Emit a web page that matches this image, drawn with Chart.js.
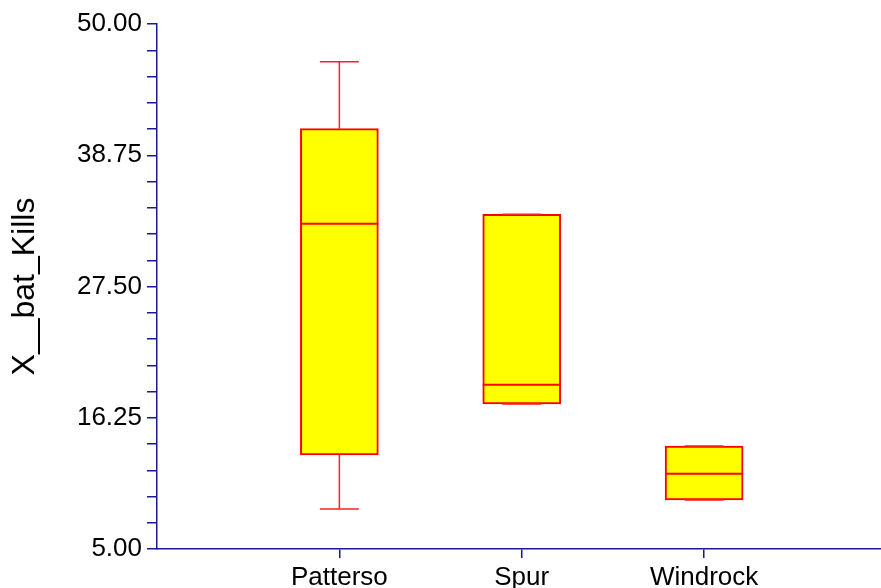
<!DOCTYPE html>
<html>
<head>
<meta charset="utf-8">
<script src="https://cdn.jsdelivr.net/npm/chart.js@4"></script>
<style>
html,body{margin:0;padding:0;background:#fff;}
#wrap{width:881px;height:588px;}
</style>
</head>
<body>
<div id="wrap"><canvas id="c" width="881" height="588"></canvas></div>
<script>
const categories = ['Patterso', 'Spur', 'Windrock'];
const mins    = [8.43, 17.43, 9.2];
const q1s     = [13.06, 17.43, 9.2];
const medians = [32.88, 19.08, 11.45];
const q3s     = [41.03, 33.69, 13.83];
const maxs    = [46.77, 33.69, 13.83];
const yMajorTicks = [5, 16.25, 27.5, 38.75, 50];
const yMinorStep = 2.25;

const AXIS = '#1a1a8c';
const FONT = 'Liberation Sans, Arial, sans-serif';

const boxData = categories.map((c, i) => ({x: i + 1, y: [q1s[i], q3s[i]]}));

const whiskerPlugin = {
  id: 'whiskers',
  afterDatasetsDraw(chart) {
    const ctx = chart.ctx;
    const xs = chart.scales.x, ys = chart.scales.y;
    const boxHalf = 39, capHalf = 19.5;
    ctx.save();
    ctx.lineCap = 'butt';
    categories.forEach((c, i) => {
      const cx = xs.getPixelForValue(i + 1);
      const pMax = ys.getPixelForValue(maxs[i]);
      const pMin = ys.getPixelForValue(mins[i]);
      const pQ1 = ys.getPixelForValue(q1s[i]);
      const pQ3 = ys.getPixelForValue(q3s[i]);
      const pMed = ys.getPixelForValue(medians[i]);
      ctx.strokeStyle = '#ff2020';
      ctx.lineWidth = 1.5;
      ctx.beginPath();
      if (maxs[i] > q3s[i]) { ctx.moveTo(cx, pQ3); ctx.lineTo(cx, pMax); }
      if (mins[i] < q1s[i]) { ctx.moveTo(cx, pQ1); ctx.lineTo(cx, pMin); }
      ctx.moveTo(cx - capHalf, pMax); ctx.lineTo(cx + capHalf, pMax);
      ctx.moveTo(cx - capHalf, pMin); ctx.lineTo(cx + capHalf, pMin);
      ctx.stroke();
      ctx.strokeStyle = '#ff0000';
      ctx.lineWidth = 2;
      ctx.beginPath();
      ctx.moveTo(cx - boxHalf, pMed); ctx.lineTo(cx + boxHalf, pMed);
      ctx.stroke();
    });
    ctx.restore();
  }
};

new Chart(document.getElementById('c'), {
  type: 'bar',
  data: {
    datasets: [{
      data: boxData,
      backgroundColor: '#ffff00',
      borderColor: '#ff0000',
      borderWidth: 2,
      borderSkipped: false,
      barThickness: 78
    }]
  },
  plugins: [whiskerPlugin],
  options: {
    responsive: false,
    animation: false,
    devicePixelRatio: 1,
    layout: {padding: {top: 24, right: 0, left: 0, bottom: 0}},
    plugins: {legend: {display: false}, tooltip: {enabled: false}},
    scales: {
      x: {
        type: 'linear',
        offset: false,
        min: 0,
        max: 3.97,
        afterBuildTicks(scale) { scale.ticks = categories.map((c, i) => ({value: i + 1})); },
        afterFit(scale) { scale.height = 39; },
        ticks: {
          autoSkip: false,
          maxRotation: 0,
          padding: 4,
          color: '#000',
          font: {family: FONT, size: 26},
          callback: (v) => categories[Math.round(v) - 1] || ''
        },
        grid: {offset: false, drawOnChartArea: false, drawTicks: true, tickLength: 9, color: AXIS, tickColor: AXIS, lineWidth: 1.5},
        border: {display: true, color: AXIS, width: 1.5}
      },
      y: {
        type: 'linear',
        min: 5,
        max: 50,
        afterBuildTicks(scale) {
          const t = [];
          for (let k = 0; k <= 20; k++) t.push({value: 5 + k * yMinorStep});
          scale.ticks = t;
        },
        afterFit(scale) { scale.width = 157; },
        ticks: {
          autoSkip: false,
          padding: 5,
          color: '#000',
          font: {family: FONT, size: 26},
          callback: (v) => {
            const m = yMajorTicks.find(t => Math.abs(t - v) < 1e-6);
            return m !== undefined ? m.toFixed(2) : '';
          }
        },
        title: {
          display: true,
          text: 'X__bat_Kills',
          color: '#000',
          font: {family: FONT, size: 32},
          padding: {top: 6, bottom: 0}
        },
        grid: {drawOnChartArea: false, drawTicks: true, tickLength: 10, color: AXIS, tickColor: AXIS, lineWidth: 1.5},
        border: {display: true, color: AXIS, width: 1.5}
      }
    }
  }
});
</script>
</body>
</html>
